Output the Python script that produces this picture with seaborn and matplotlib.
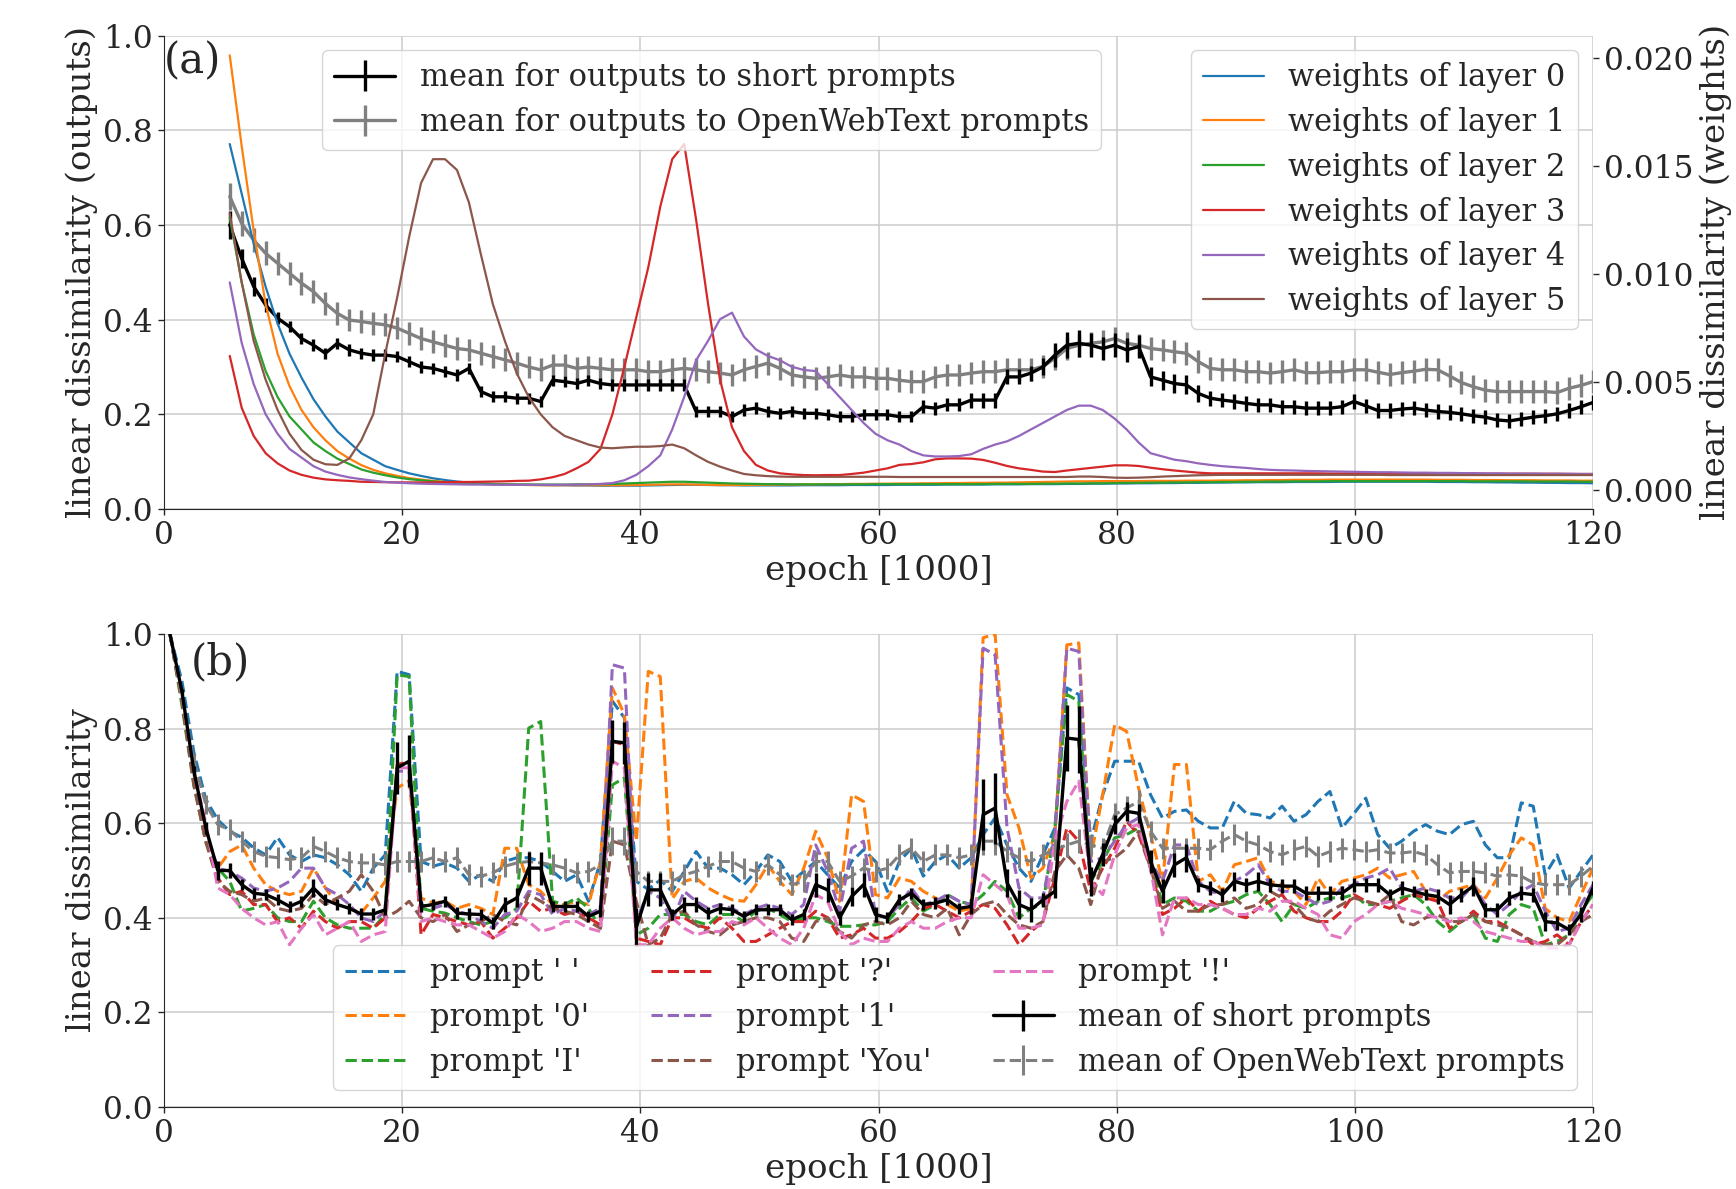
import numpy as np
import pandas as pd
import matplotlib
matplotlib.use("Agg")
import matplotlib.pyplot as plt
import seaborn as sns

# ---------------- data ----------------
# checkpoint positions (epoch [1000]) shared by both panels; panel (a) starts at the 6th checkpoint
epochs = np.linspace(0.5, 120, 120)
epochs_a = epochs[5:]

# ---- panel (a): mean output dissimilarity ----
mean_short_a = [0.60, 0.529, 0.47, 0.431, 0.403, 0.385, 0.36, 0.346, 0.329, 0.35,
                0.336, 0.329, 0.325, 0.325, 0.322, 0.311, 0.30, 0.297, 0.29, 0.283,
                0.297, 0.248, 0.237, 0.237, 0.234, 0.234, 0.227, 0.272, 0.269, 0.265,
                0.272, 0.265, 0.262, 0.262, 0.262, 0.262, 0.262, 0.262, 0.262, 0.206,
                0.206, 0.206, 0.195, 0.209, 0.213, 0.206, 0.202, 0.206, 0.202, 0.202,
                0.199, 0.195, 0.195, 0.199, 0.199, 0.199, 0.195, 0.195, 0.216, 0.213,
                0.22, 0.22, 0.23, 0.23, 0.23, 0.279, 0.279, 0.287, 0.30, 0.325,
                0.346, 0.35, 0.346, 0.339, 0.346, 0.336, 0.343, 0.279, 0.272, 0.265,
                0.262, 0.244, 0.234, 0.23, 0.227, 0.223, 0.22, 0.22, 0.216, 0.216,
                0.213, 0.213, 0.213, 0.216, 0.227, 0.218, 0.208, 0.208, 0.211, 0.213,
                0.209, 0.206, 0.204, 0.201, 0.197, 0.194, 0.188, 0.186, 0.19, 0.194,
                0.197, 0.201, 0.208, 0.216, 0.225]
mean_short_a_err = [0.03, 0.02, 0.02, 0.015, 0.013, 0.012, 0.012, 0.012, 0.012, 0.012,
                    0.012, 0.012, 0.012, 0.012, 0.012, 0.012, 0.012, 0.012, 0.012, 0.012,
                    0.012, 0.012, 0.012, 0.012, 0.012, 0.012, 0.012, 0.012, 0.012, 0.012,
                    0.012, 0.012, 0.012, 0.012, 0.012, 0.012, 0.012, 0.012, 0.012, 0.012,
                    0.012, 0.012, 0.012, 0.012, 0.012, 0.012, 0.012, 0.012, 0.012, 0.012,
                    0.012, 0.012, 0.012, 0.012, 0.012, 0.012, 0.012, 0.012, 0.014, 0.014,
                    0.014, 0.014, 0.016, 0.016, 0.016, 0.016, 0.016, 0.016, 0.018, 0.025,
                    0.028, 0.028, 0.025, 0.025, 0.025, 0.025, 0.025, 0.02, 0.02, 0.02,
                    0.02, 0.018, 0.016, 0.015, 0.015, 0.015, 0.015, 0.015, 0.015, 0.015,
                    0.015, 0.015, 0.015, 0.015, 0.015, 0.015, 0.015, 0.015, 0.015, 0.015,
                    0.015, 0.015, 0.015, 0.015, 0.015, 0.015, 0.015, 0.015, 0.015, 0.015,
                    0.015, 0.015, 0.015, 0.015, 0.015]
mean_owt_a = [0.66, 0.603, 0.568, 0.54, 0.519, 0.498, 0.477, 0.459, 0.434, 0.413,
              0.399, 0.396, 0.392, 0.389, 0.382, 0.371, 0.36, 0.353, 0.346, 0.339,
              0.336, 0.329, 0.322, 0.315, 0.308, 0.30, 0.294, 0.304, 0.304, 0.297,
              0.30, 0.297, 0.294, 0.294, 0.294, 0.29, 0.29, 0.294, 0.297, 0.294,
              0.29, 0.287, 0.283, 0.294, 0.301, 0.308, 0.297, 0.283, 0.279, 0.276,
              0.279, 0.283, 0.279, 0.279, 0.276, 0.276, 0.272, 0.269, 0.269, 0.279,
              0.283, 0.283, 0.287, 0.29, 0.29, 0.294, 0.294, 0.294, 0.301, 0.318,
              0.339, 0.346, 0.35, 0.353, 0.36, 0.35, 0.346, 0.339, 0.336, 0.332,
              0.329, 0.311, 0.297, 0.294, 0.294, 0.29, 0.29, 0.287, 0.29, 0.294,
              0.288, 0.288, 0.29, 0.29, 0.294, 0.294, 0.289, 0.284, 0.288, 0.291,
              0.295, 0.294, 0.281, 0.267, 0.258, 0.251, 0.248, 0.248, 0.248, 0.248,
              0.248, 0.246, 0.255, 0.261, 0.269]
mean_owt_a_err = [0.028, 0.026, 0.025, 0.025, 0.024, 0.024, 0.024, 0.024, 0.024, 0.024,
                  0.024, 0.024, 0.024, 0.024, 0.024, 0.024, 0.024, 0.024, 0.024, 0.024,
                  0.024, 0.024, 0.024, 0.024, 0.024, 0.024, 0.024, 0.024, 0.024, 0.024,
                  0.024, 0.024, 0.024, 0.024, 0.024, 0.024, 0.024, 0.024, 0.024, 0.024,
                  0.024, 0.024, 0.024, 0.024, 0.024, 0.024, 0.024, 0.024, 0.024, 0.024,
                  0.024, 0.024, 0.024, 0.024, 0.024, 0.024, 0.024, 0.024, 0.024, 0.024,
                  0.024, 0.024, 0.024, 0.024, 0.024, 0.024, 0.024, 0.024, 0.024, 0.024,
                  0.024, 0.024, 0.024, 0.024, 0.024, 0.024, 0.024, 0.024, 0.024, 0.024,
                  0.024, 0.024, 0.024, 0.024, 0.024, 0.024, 0.024, 0.024, 0.024, 0.024,
                  0.024, 0.024, 0.024, 0.024, 0.024, 0.024, 0.024, 0.024, 0.024, 0.024,
                  0.024, 0.024, 0.024, 0.024, 0.024, 0.024, 0.024, 0.024, 0.024, 0.024,
                  0.024, 0.024, 0.024, 0.024, 0.024]

# ---- panel (a): weight dissimilarity per layer (units of 1e-3) ----
w_layer0 = [16.0, 13.7, 11.4, 9.4, 7.7, 6.3, 5.2, 4.2, 3.4, 2.7,
            2.2, 1.7, 1.4, 1.1, 0.93, 0.77, 0.65, 0.54, 0.46, 0.39,
            0.34, 0.31, 0.28, 0.26, 0.25, 0.24, 0.23, 0.22, 0.22, 0.21,
            0.21, 0.2, 0.2, 0.2, 0.2, 0.21, 0.22, 0.23, 0.24, 0.24,
            0.23, 0.22, 0.22, 0.21, 0.21, 0.21, 0.21, 0.21, 0.22, 0.22,
            0.22, 0.22, 0.23, 0.23, 0.23, 0.23, 0.24, 0.24, 0.24, 0.24,
            0.25, 0.25, 0.25, 0.25, 0.26, 0.26, 0.26, 0.27, 0.27, 0.27,
            0.28, 0.28, 0.29, 0.29, 0.3, 0.3, 0.31, 0.31, 0.32, 0.32,
            0.33, 0.33, 0.34, 0.34, 0.35, 0.35, 0.36, 0.36, 0.36, 0.37,
            0.37, 0.37, 0.37, 0.38, 0.38, 0.38, 0.38, 0.38, 0.38, 0.38,
            0.38, 0.37, 0.37, 0.37, 0.36, 0.36, 0.35, 0.35, 0.34, 0.34,
            0.33, 0.33, 0.32, 0.32, 0.31]
w_layer1 = [20.1, 15.9, 12.0, 8.6, 6.3, 4.8, 3.7, 2.9, 2.3, 1.8,
            1.45, 1.15, 0.93, 0.77, 0.65, 0.55, 0.48, 0.42, 0.37, 0.34,
            0.31, 0.29, 0.27, 0.25, 0.24, 0.23, 0.22, 0.22, 0.22, 0.22,
            0.22, 0.22, 0.22, 0.22, 0.23, 0.24, 0.25, 0.26, 0.26, 0.25,
            0.24, 0.23, 0.23, 0.23, 0.24, 0.24, 0.25, 0.25, 0.26, 0.26,
            0.27, 0.27, 0.28, 0.28, 0.29, 0.29, 0.3, 0.3, 0.31, 0.31,
            0.32, 0.32, 0.33, 0.33, 0.34, 0.34, 0.35, 0.36, 0.37, 0.38,
            0.39, 0.4, 0.4, 0.41, 0.41, 0.41, 0.41, 0.42, 0.42, 0.42,
            0.43, 0.43, 0.43, 0.44, 0.44, 0.45, 0.45, 0.46, 0.46, 0.47,
            0.47, 0.47, 0.48, 0.48, 0.48, 0.48, 0.48, 0.48, 0.48, 0.48,
            0.48, 0.47, 0.47, 0.47, 0.46, 0.46, 0.46, 0.45, 0.45, 0.45,
            0.44, 0.44, 0.44, 0.43, 0.43]
w_layer2 = [12.6, 9.6, 7.2, 5.5, 4.3, 3.4, 2.8, 2.2, 1.8, 1.45,
            1.2, 0.95, 0.8, 0.68, 0.58, 0.5, 0.45, 0.4, 0.36, 0.33,
            0.3, 0.28, 0.27, 0.26, 0.25, 0.25, 0.25, 0.25, 0.25, 0.26,
            0.26, 0.27, 0.28, 0.3, 0.32, 0.34, 0.36, 0.38, 0.38, 0.36,
            0.34, 0.32, 0.3, 0.29, 0.28, 0.27, 0.27, 0.26, 0.26, 0.26,
            0.26, 0.26, 0.26, 0.26, 0.27, 0.27, 0.27, 0.27, 0.27, 0.27,
            0.27, 0.27, 0.27, 0.27, 0.28, 0.28, 0.28, 0.28, 0.29, 0.29,
            0.3, 0.3, 0.31, 0.31, 0.32, 0.33, 0.33, 0.34, 0.34, 0.35,
            0.35, 0.36, 0.36, 0.37, 0.37, 0.38, 0.38, 0.39, 0.39, 0.4,
            0.4, 0.4, 0.41, 0.41, 0.41, 0.41, 0.41, 0.41, 0.41, 0.41,
            0.41, 0.41, 0.41, 0.41, 0.4, 0.4, 0.4, 0.4, 0.4, 0.39,
            0.39, 0.39, 0.39, 0.38, 0.38]
w_layer3 = [6.2, 3.8, 2.5, 1.7, 1.23, 0.9, 0.7, 0.57, 0.49, 0.45,
            0.42, 0.38, 0.37, 0.36, 0.35, 0.35, 0.35, 0.35, 0.36, 0.37,
            0.37, 0.38, 0.39, 0.4, 0.42, 0.43, 0.49, 0.59, 0.74, 1.0,
            1.3, 1.9, 3.5, 5.7, 8.0, 10.3, 13.1, 15.3, 16.0, 12.5,
            8.6, 5.1, 2.9, 1.8, 1.16, 0.9, 0.77, 0.72, 0.69, 0.68,
            0.69, 0.69, 0.74, 0.8, 0.9, 1.0, 1.16, 1.2, 1.28, 1.42,
            1.46, 1.46, 1.45, 1.39, 1.26, 1.11, 1.0, 0.93, 0.85, 0.83,
            0.9, 0.96, 1.02, 1.08, 1.14, 1.14, 1.11, 1.03, 0.96, 0.9,
            0.85, 0.8, 0.77, 0.77, 0.77, 0.77, 0.77, 0.77, 0.77, 0.77,
            0.77, 0.77, 0.76, 0.76, 0.76, 0.76, 0.76, 0.76, 0.76, 0.76,
            0.76, 0.76, 0.75, 0.75, 0.75, 0.75, 0.75, 0.75, 0.75, 0.75,
            0.75, 0.75, 0.74, 0.74, 0.74]
w_layer4 = [9.6, 6.8, 4.9, 3.5, 2.6, 1.9, 1.5, 1.1, 0.85, 0.7,
            0.58, 0.5, 0.43, 0.37, 0.34, 0.31, 0.29, 0.28, 0.27, 0.26,
            0.25, 0.25, 0.24, 0.24, 0.24, 0.24, 0.24, 0.24, 0.24, 0.25,
            0.26, 0.28, 0.32, 0.45, 0.7, 1.1, 1.6, 2.8, 4.3, 6.0,
            6.9, 7.9, 8.2, 7.1, 6.5, 6.2, 6.0, 5.7, 5.55, 5.5,
            4.9, 4.3, 3.7, 3.1, 2.6, 2.3, 2.1, 1.8, 1.6, 1.55,
            1.55, 1.57, 1.65, 1.9, 2.1, 2.25, 2.5, 2.8, 3.1, 3.4,
            3.7, 3.9, 3.9, 3.7, 3.3, 2.8, 2.2, 1.7, 1.55, 1.4,
            1.33, 1.23, 1.16, 1.1, 1.06, 1.02, 0.97, 0.93, 0.91, 0.9,
            0.88, 0.87, 0.86, 0.85, 0.84, 0.83, 0.82, 0.82, 0.81, 0.8,
            0.8, 0.79, 0.79, 0.78, 0.78, 0.77, 0.77, 0.76, 0.76, 0.76,
            0.75, 0.75, 0.75, 0.74, 0.74]
w_layer5 = [12.8, 9.6, 6.9, 5.1, 3.7, 2.6, 1.85, 1.4, 1.19, 1.16,
            1.46, 2.3, 3.5, 6.3, 8.9, 11.7, 14.2, 15.3, 15.3, 14.8,
            13.3, 10.9, 8.6, 6.9, 5.4, 4.3, 3.5, 2.9, 2.5, 2.3,
            2.1, 1.96, 1.93, 1.97, 2.0, 2.0, 2.03, 2.1, 1.93, 1.6,
            1.3, 1.08, 0.9, 0.74, 0.68, 0.64, 0.62, 0.61, 0.61, 0.61,
            0.61, 0.61, 0.61, 0.61, 0.61, 0.61, 0.6, 0.6, 0.6, 0.6,
            0.6, 0.6, 0.6, 0.6, 0.6, 0.6, 0.6, 0.6, 0.6, 0.6,
            0.6, 0.62, 0.62, 0.6, 0.57, 0.56, 0.57, 0.59, 0.62, 0.64,
            0.66, 0.68, 0.69, 0.7, 0.7, 0.7, 0.7, 0.7, 0.7, 0.7,
            0.7, 0.7, 0.7, 0.7, 0.7, 0.7, 0.7, 0.69, 0.69, 0.69,
            0.69, 0.69, 0.69, 0.69, 0.69, 0.69, 0.69, 0.69, 0.69, 0.69,
            0.69, 0.69, 0.69, 0.69, 0.69]
weight_layers = [w_layer0, w_layer1, w_layer2, w_layer3, w_layer4, w_layer5]
weight_labels = ["weights of layer 0", "weights of layer 1", "weights of layer 2",
                 "weights of layer 3", "weights of layer 4", "weights of layer 5"]

# ---- panel (b): dissimilarity per short prompt ----
prompt_space = [1.0, 0.90, 0.75, 0.65, 0.607, 0.583, 0.57, 0.548, 0.533, 0.57,
                0.533, 0.519, 0.533, 0.527, 0.512, 0.491, 0.456, 0.505, 0.533, 0.921,
                0.914, 0.519, 0.509, 0.516, 0.505, 0.477, 0.491, 0.477, 0.519, 0.527,
                0.527, 0.519, 0.498, 0.477, 0.491, 0.435, 0.519, 0.858, 0.823, 0.477,
                0.46, 0.48, 0.456, 0.498, 0.54, 0.505, 0.505, 0.491, 0.47, 0.498,
                0.533, 0.519, 0.477, 0.498, 0.519, 0.491, 0.463, 0.519, 0.544, 0.519,
                0.456, 0.519, 0.547, 0.488, 0.519, 0.533, 0.505, 0.527, 0.576, 0.611,
                0.554, 0.505, 0.477, 0.533, 0.59, 0.886, 0.872, 0.562, 0.66, 0.731,
                0.731, 0.731, 0.66, 0.611, 0.625, 0.628, 0.604, 0.59, 0.59, 0.646,
                0.621, 0.618, 0.611, 0.636, 0.604, 0.618, 0.646, 0.667, 0.59, 0.62,
                0.653, 0.576, 0.547, 0.562, 0.583, 0.597, 0.583, 0.576, 0.597, 0.604,
                0.554, 0.527, 0.527, 0.643, 0.636, 0.491, 0.533, 0.463, 0.498, 0.533]
prompt_0 = [1.0, 0.86, 0.70, 0.57, 0.505, 0.54, 0.554, 0.505, 0.47, 0.456,
            0.449, 0.456, 0.505, 0.463, 0.428, 0.42, 0.41, 0.442, 0.477, 0.674,
            0.69, 0.442, 0.431, 0.435, 0.42, 0.428, 0.42, 0.407, 0.547, 0.547,
            0.47, 0.456, 0.428, 0.428, 0.435, 0.428, 0.519, 0.886, 0.83, 0.562,
            0.921, 0.91, 0.44, 0.477, 0.484, 0.463, 0.449, 0.438, 0.435, 0.47,
            0.512, 0.477, 0.449, 0.505, 0.583, 0.527, 0.435, 0.66, 0.646, 0.449,
            0.442, 0.484, 0.477, 0.456, 0.442, 0.428, 0.414, 0.42, 0.992, 1.0,
            0.66, 0.59, 0.484, 0.505, 0.576, 0.977, 0.981, 0.527, 0.66, 0.808,
            0.794, 0.674, 0.576, 0.477, 0.724, 0.724, 0.477, 0.491, 0.456, 0.512,
            0.519, 0.527, 0.477, 0.47, 0.456, 0.428, 0.484, 0.449, 0.477, 0.484,
            0.491, 0.505, 0.484, 0.491, 0.498, 0.456, 0.435, 0.456, 0.463, 0.47,
            0.442, 0.484, 0.533, 0.569, 0.554, 0.42, 0.40, 0.392, 0.449, 0.505]
prompt_I = [1.0, 0.85, 0.68, 0.56, 0.505, 0.477, 0.414, 0.42, 0.428, 0.40,
            0.392, 0.392, 0.435, 0.40, 0.385, 0.378, 0.378, 0.378, 0.407, 0.914,
            0.91, 0.42, 0.414, 0.41, 0.40, 0.392, 0.385, 0.392, 0.40, 0.42,
            0.801, 0.815, 0.435, 0.428, 0.442, 0.42, 0.378, 0.681, 0.696, 0.364,
            0.378, 0.407, 0.407, 0.407, 0.392, 0.385, 0.407, 0.407, 0.392, 0.414,
            0.42, 0.407, 0.392, 0.40, 0.40, 0.392, 0.382, 0.382, 0.385, 0.385,
            0.392, 0.42, 0.442, 0.414, 0.428, 0.449, 0.435, 0.428, 0.449, 0.477,
            0.456, 0.40, 0.42, 0.428, 0.59, 0.872, 0.858, 0.477, 0.519, 0.569,
            0.576, 0.59, 0.519, 0.428, 0.442, 0.435, 0.414, 0.414, 0.428, 0.435,
            0.449, 0.456, 0.428, 0.392, 0.428, 0.42, 0.435, 0.442, 0.442, 0.449,
            0.428, 0.428, 0.435, 0.442, 0.449, 0.428, 0.392, 0.371, 0.392, 0.407,
            0.357, 0.35, 0.407, 0.428, 0.42, 0.343, 0.35, 0.364, 0.414, 0.449]
prompt_q = [1.0, 0.86, 0.69, 0.57, 0.484, 0.449, 0.456, 0.428, 0.428, 0.392,
            0.40, 0.378, 0.414, 0.392, 0.378, 0.392, 0.392, 0.378, 0.40, 0.724,
            0.73, 0.364, 0.407, 0.40, 0.392, 0.385, 0.392, 0.357, 0.378, 0.40,
            0.435, 0.414, 0.42, 0.407, 0.414, 0.40, 0.385, 0.773, 0.766, 0.357,
            0.35, 0.343, 0.40, 0.40, 0.385, 0.378, 0.40, 0.378, 0.35, 0.35,
            0.364, 0.378, 0.392, 0.392, 0.414, 0.40, 0.357, 0.364, 0.378, 0.357,
            0.357, 0.371, 0.392, 0.42, 0.428, 0.414, 0.40, 0.414, 0.428, 0.42,
            0.385, 0.343, 0.371, 0.392, 0.484, 0.59, 0.562, 0.456, 0.505, 0.547,
            0.604, 0.576, 0.505, 0.407, 0.42, 0.442, 0.414, 0.435, 0.42, 0.407,
            0.40, 0.42, 0.435, 0.449, 0.414, 0.40, 0.392, 0.392, 0.414, 0.449,
            0.435, 0.428, 0.42, 0.435, 0.449, 0.442, 0.435, 0.378, 0.392, 0.414,
            0.392, 0.392, 0.378, 0.364, 0.343, 0.35, 0.364, 0.343, 0.392, 0.428]
prompt_1 = [1.0, 0.87, 0.70, 0.58, 0.505, 0.498, 0.484, 0.463, 0.456, 0.463,
            0.477, 0.505, 0.505, 0.463, 0.449, 0.428, 0.40, 0.392, 0.414, 0.71,
            0.71, 0.428, 0.42, 0.428, 0.414, 0.407, 0.392, 0.378, 0.407, 0.414,
            0.456, 0.449, 0.407, 0.42, 0.414, 0.407, 0.42, 0.935, 0.928, 0.392,
            0.456, 0.442, 0.392, 0.456, 0.435, 0.42, 0.428, 0.42, 0.407, 0.42,
            0.428, 0.42, 0.407, 0.428, 0.554, 0.498, 0.414, 0.547, 0.562, 0.407,
            0.40, 0.428, 0.463, 0.428, 0.435, 0.449, 0.435, 0.428, 0.97, 0.956,
            0.59, 0.463, 0.442, 0.442, 0.576, 0.97, 0.963, 0.519, 0.527, 0.562,
            0.597, 0.611, 0.519, 0.477, 0.554, 0.554, 0.477, 0.456, 0.449, 0.477,
            0.491, 0.512, 0.47, 0.456, 0.456, 0.442, 0.428, 0.435, 0.463, 0.47,
            0.484, 0.491, 0.505, 0.463, 0.456, 0.463, 0.456, 0.442, 0.442, 0.47,
            0.428, 0.407, 0.428, 0.456, 0.47, 0.414, 0.371, 0.378, 0.428, 0.47]
prompt_You = [1.0, 0.86, 0.68, 0.56, 0.477, 0.456, 0.449, 0.435, 0.442, 0.42,
              0.414, 0.42, 0.449, 0.428, 0.442, 0.456, 0.491, 0.456, 0.40, 0.414,
              0.435, 0.40, 0.392, 0.407, 0.371, 0.385, 0.392, 0.407, 0.392, 0.385,
              0.449, 0.435, 0.42, 0.414, 0.407, 0.392, 0.378, 0.562, 0.554, 0.435,
              0.343, 0.357, 0.407, 0.414, 0.385, 0.371, 0.364, 0.385, 0.392, 0.40,
              0.40, 0.392, 0.357, 0.35, 0.392, 0.40, 0.371, 0.357, 0.385, 0.392,
              0.385, 0.40, 0.435, 0.407, 0.40, 0.42, 0.364, 0.407, 0.428, 0.435,
              0.407, 0.385, 0.378, 0.392, 0.498, 0.533, 0.505, 0.428, 0.519, 0.527,
              0.547, 0.583, 0.505, 0.42, 0.435, 0.414, 0.414, 0.428, 0.428, 0.442,
              0.42, 0.428, 0.456, 0.442, 0.428, 0.40, 0.392, 0.414, 0.428, 0.442,
              0.435, 0.428, 0.449, 0.392, 0.385, 0.40, 0.407, 0.392, 0.392, 0.407,
              0.392, 0.385, 0.378, 0.364, 0.35, 0.343, 0.343, 0.364, 0.392, 0.407]
prompt_excl = [1.0, 0.87, 0.71, 0.60, 0.463, 0.449, 0.42, 0.40, 0.385, 0.392,
               0.343, 0.378, 0.407, 0.364, 0.378, 0.392, 0.35, 0.364, 0.371, 0.717,
               0.717, 0.392, 0.40, 0.392, 0.385, 0.385, 0.371, 0.357, 0.371, 0.407,
               0.392, 0.371, 0.378, 0.392, 0.392, 0.378, 0.371, 0.731, 0.717, 0.343,
               0.343, 0.378, 0.40, 0.378, 0.364, 0.371, 0.371, 0.392, 0.385, 0.40,
               0.378, 0.357, 0.343, 0.378, 0.449, 0.435, 0.371, 0.343, 0.357, 0.35,
               0.35, 0.378, 0.392, 0.378, 0.378, 0.392, 0.40, 0.40, 0.491, 0.47,
               0.449, 0.378, 0.378, 0.385, 0.562, 0.646, 0.689, 0.477, 0.449, 0.533,
               0.59, 0.597, 0.505, 0.364, 0.442, 0.442, 0.428, 0.428, 0.42, 0.407,
               0.407, 0.42, 0.414, 0.435, 0.435, 0.42, 0.407, 0.364, 0.357, 0.392,
               0.407, 0.428, 0.435, 0.42, 0.414, 0.407, 0.40, 0.392, 0.40, 0.392,
               0.371, 0.364, 0.357, 0.35, 0.35, 0.336, 0.336, 0.343, 0.392, 0.428]
prompt_series = [prompt_space, prompt_0, prompt_I, prompt_q, prompt_1, prompt_You, prompt_excl]
prompt_labels = ["prompt ' '", "prompt '0'", "prompt 'I'", "prompt '?'",
                 "prompt '1'", "prompt 'You'", "prompt '!'"]

mean_short_b = [1.0, 0.879, 0.71, 0.59, 0.50, 0.50, 0.47, 0.452, 0.449, 0.438,
                0.424, 0.435, 0.463, 0.438, 0.428, 0.42, 0.408, 0.408, 0.417, 0.717,
                0.731, 0.424, 0.428, 0.435, 0.41, 0.408, 0.407, 0.389, 0.428, 0.442,
                0.505, 0.505, 0.424, 0.424, 0.424, 0.403, 0.414, 0.773, 0.77, 0.38,
                0.459, 0.459, 0.407, 0.428, 0.428, 0.41, 0.42, 0.417, 0.403, 0.417,
                0.417, 0.417, 0.396, 0.407, 0.47, 0.459, 0.40, 0.445, 0.47, 0.407,
                0.40, 0.438, 0.452, 0.428, 0.431, 0.438, 0.42, 0.424, 0.618, 0.632,
                0.474, 0.428, 0.417, 0.438, 0.456, 0.78, 0.777, 0.477, 0.534, 0.597,
                0.625, 0.621, 0.519, 0.456, 0.512, 0.527, 0.47, 0.463, 0.449, 0.477,
                0.47, 0.477, 0.47, 0.467, 0.467, 0.452, 0.452, 0.452, 0.452, 0.47,
                0.47, 0.47, 0.449, 0.463, 0.456, 0.449, 0.445, 0.428, 0.449, 0.467,
                0.417, 0.417, 0.442, 0.452, 0.449, 0.392, 0.389, 0.375, 0.407, 0.463]
mean_short_b_err = [0.0, 0.005, 0.01, 0.012, 0.02, 0.015, 0.012, 0.012, 0.012, 0.012,
                    0.012, 0.012, 0.018, 0.012, 0.012, 0.012, 0.012, 0.012, 0.012, 0.055,
                    0.055, 0.012, 0.012, 0.012, 0.012, 0.012, 0.012, 0.012, 0.015, 0.02,
                    0.035, 0.035, 0.012, 0.012, 0.012, 0.012, 0.012, 0.045, 0.045, 0.04,
                    0.035, 0.035, 0.012, 0.015, 0.015, 0.012, 0.012, 0.012, 0.012, 0.012,
                    0.012, 0.012, 0.012, 0.012, 0.025, 0.025, 0.015, 0.02, 0.025, 0.015,
                    0.012, 0.012, 0.012, 0.012, 0.012, 0.012, 0.012, 0.015, 0.075, 0.075,
                    0.03, 0.03, 0.025, 0.015, 0.015, 0.07, 0.07, 0.03, 0.025, 0.02,
                    0.02, 0.02, 0.025, 0.025, 0.025, 0.03, 0.015, 0.015, 0.015, 0.02,
                    0.015, 0.02, 0.015, 0.015, 0.015, 0.015, 0.015, 0.015, 0.015, 0.015,
                    0.015, 0.015, 0.012, 0.015, 0.012, 0.012, 0.015, 0.02, 0.015, 0.02,
                    0.015, 0.015, 0.015, 0.015, 0.015, 0.02, 0.015, 0.012, 0.015, 0.015]
mean_owt_b = [1.0, 0.87, 0.731, 0.64, 0.597, 0.586, 0.562, 0.54, 0.53, 0.527,
              0.523, 0.527, 0.551, 0.54, 0.527, 0.519, 0.516, 0.516, 0.512, 0.519,
              0.519, 0.519, 0.527, 0.519, 0.527, 0.491, 0.488, 0.495, 0.509, 0.516,
              0.519, 0.516, 0.512, 0.505, 0.495, 0.498, 0.512, 0.562, 0.562, 0.498,
              0.477, 0.477, 0.477, 0.491, 0.498, 0.509, 0.519, 0.519, 0.505, 0.498,
              0.512, 0.491, 0.47, 0.477, 0.519, 0.519, 0.477, 0.488, 0.505, 0.498,
              0.505, 0.533, 0.547, 0.519, 0.533, 0.533, 0.527, 0.533, 0.562, 0.562,
              0.54, 0.527, 0.519, 0.533, 0.544, 0.554, 0.562, 0.554, 0.547, 0.618,
              0.632, 0.646, 0.583, 0.547, 0.547, 0.547, 0.547, 0.544, 0.562, 0.576,
              0.562, 0.554, 0.54, 0.533, 0.544, 0.551, 0.53, 0.54, 0.547, 0.544,
              0.54, 0.544, 0.537, 0.537, 0.54, 0.533, 0.512, 0.495, 0.498, 0.498,
              0.495, 0.488, 0.491, 0.488, 0.474, 0.47, 0.47, 0.47, 0.488, 0.509]
mean_owt_b_err = [0.0, 0.01, 0.015, 0.02, 0.022, 0.022, 0.022, 0.022, 0.022, 0.022,
                  0.022, 0.022, 0.022, 0.022, 0.022, 0.022, 0.022, 0.022, 0.022, 0.022,
                  0.022, 0.022, 0.022, 0.022, 0.022, 0.022, 0.022, 0.022, 0.022, 0.022,
                  0.022, 0.022, 0.022, 0.022, 0.022, 0.022, 0.022, 0.03, 0.03, 0.022,
                  0.022, 0.022, 0.022, 0.022, 0.022, 0.022, 0.022, 0.022, 0.022, 0.022,
                  0.022, 0.022, 0.022, 0.022, 0.022, 0.022, 0.022, 0.022, 0.022, 0.022,
                  0.022, 0.022, 0.022, 0.022, 0.022, 0.022, 0.022, 0.022, 0.03, 0.03,
                  0.022, 0.022, 0.022, 0.022, 0.022, 0.025, 0.025, 0.022, 0.022, 0.025,
                  0.025, 0.025, 0.022, 0.022, 0.022, 0.022, 0.022, 0.022, 0.022, 0.022,
                  0.022, 0.022, 0.022, 0.022, 0.022, 0.022, 0.022, 0.022, 0.022, 0.022,
                  0.022, 0.022, 0.022, 0.022, 0.022, 0.022, 0.022, 0.022, 0.022, 0.022,
                  0.022, 0.022, 0.022, 0.022, 0.022, 0.022, 0.022, 0.022, 0.022, 0.022]

# ---------------- style ----------------
sns.set_style("ticks")
plt.rcParams["font.family"] = ["DejaVu Serif"]
plt.rcParams["text.color"] = "#262626"
plt.rcParams["axes.labelcolor"] = "#262626"
plt.rcParams["xtick.color"] = "#262626"
plt.rcParams["ytick.color"] = "#262626"

TICK_FS = 22.5
LABEL_FS = 24.5
LEG_FS = 22.0
LEG_SP = 0.45
PANEL_FS = 30
palette = sns.color_palette("tab10")

fig = plt.figure(figsize=(17.36, 11.89), dpi=100)
ax_a = fig.add_axes([0.09447, 0.57191, 0.82316, 0.39823])
ax_b = fig.add_axes([0.09447, 0.06897, 0.82316, 0.39781])
ax_w = ax_a.twinx()

# ---------- panel (a) ----------
df_w = pd.DataFrame({"epoch": np.tile(epochs_a, len(weight_layers)),
                     "value": np.concatenate([np.array(w) * 1e-3 for w in weight_layers]),
                     "layer": np.repeat(weight_labels, len(epochs_a))})
for i, lab in enumerate(weight_labels):
    sub = df_w[df_w["layer"] == lab]
    sns.lineplot(data=sub, x="epoch", y="value", ax=ax_w, color=palette[i],
                 lw=1.6, label=lab, legend=False)

eb_short_a = ax_a.errorbar(epochs_a, mean_short_a, yerr=mean_short_a_err, color="black",
                           lw=2.4, elinewidth=2.4, capsize=0, zorder=4)
eb_owt_a = ax_a.errorbar(epochs_a, mean_owt_a, yerr=mean_owt_a_err, color="gray",
                         lw=2.4, elinewidth=2.4, capsize=0, zorder=3)

ax_a.set_xlim(0, 120)
ax_a.set_ylim(0, 1.0)
ax_w.set_ylim(-0.00088, 0.02102)
ax_a.set_xticks([0, 20, 40, 60, 80, 100, 120])
ax_a.set_yticks([0.0, 0.2, 0.4, 0.6, 0.8, 1.0])
ax_a.set_yticklabels(["0.0", "0.2", "0.4", "0.6", "0.8", "1.0"])
ax_w.set_yticks([0.0, 0.005, 0.010, 0.015, 0.020])
ax_w.set_yticklabels(["0.000", "0.005", "0.010", "0.015", "0.020"])
ax_a.grid(True, color="#cccccc", lw=1.1)
ax_w.grid(False)
for s in ["top", "right"]:
    ax_a.spines[s].set_visible(False)
for s in ax_w.spines.values():
    s.set_visible(False)
ax_a.set_xlabel("epoch [1000]", fontsize=LABEL_FS, labelpad=3)
ax_a.set_ylabel("linear dissimilarity (outputs)", fontsize=LABEL_FS)
ax_w.set_ylabel("linear dissimilarity (weights)", fontsize=LABEL_FS)
for ax in (ax_a, ax_w):
    ax.tick_params(labelsize=TICK_FS, length=4.5, width=1.0)
ax_a.text(0.0, 0.99, "(a)", transform=ax_a.transAxes, fontsize=PANEL_FS, va="top", ha="left")

leg1 = ax_w.legend([eb_short_a, eb_owt_a],
                   ["mean for outputs to short prompts", "mean for outputs to OpenWebText prompts"],
                   loc="upper left", bbox_to_anchor=(0.1106, 0.969), borderaxespad=0,
                   fontsize=LEG_FS, labelspacing=LEG_SP)
ax_w.add_artist(leg1)
h_w, l_w = ax_w.get_legend_handles_labels()
h_w = [h for h in h_w if h.get_label() in weight_labels]
ax_w.legend(h_w, weight_labels, loc="upper right", bbox_to_anchor=(0.9895, 0.969),
            borderaxespad=0, fontsize=LEG_FS, labelspacing=LEG_SP)

# ---------- panel (b) ----------
df_p = pd.DataFrame({"epoch": np.tile(epochs, len(prompt_series)),
                     "value": np.concatenate([np.array(p) for p in prompt_series]),
                     "prompt": np.repeat(prompt_labels, len(epochs))})
for i, lab in enumerate(prompt_labels):
    sub = df_p[df_p["prompt"] == lab]
    sns.lineplot(data=sub, x="epoch", y="value", ax=ax_b, color=palette[i],
                 lw=2.2, linestyle="--", label=lab, legend=False)

eb_owt_b = ax_b.errorbar(epochs, mean_owt_b, yerr=mean_owt_b_err, color="gray", fmt="--",
                         lw=2.2, elinewidth=2.2, capsize=0, zorder=4)
eb_short_b = ax_b.errorbar(epochs, mean_short_b, yerr=mean_short_b_err, color="black",
                           lw=2.4, elinewidth=2.4, capsize=0, zorder=5)

ax_b.set_xlim(0, 120)
ax_b.set_ylim(0, 1.0)
ax_b.set_xticks([0, 20, 40, 60, 80, 100, 120])
ax_b.set_yticks([0.0, 0.2, 0.4, 0.6, 0.8, 1.0])
ax_b.set_yticklabels(["0.0", "0.2", "0.4", "0.6", "0.8", "1.0"])
ax_b.grid(True, color="#cccccc", lw=1.1)
for s in ["top", "right"]:
    ax_b.spines[s].set_visible(False)
ax_b.set_xlabel("epoch [1000]", fontsize=LABEL_FS, labelpad=3)
ax_b.set_ylabel("linear dissimilarity", fontsize=LABEL_FS)
ax_b.tick_params(labelsize=TICK_FS, length=4.5, width=1.0)
ax_b.text(0.019, 0.985, "(b)", transform=ax_b.transAxes, fontsize=PANEL_FS, va="top", ha="left")

h_p, l_p = ax_b.get_legend_handles_labels()
h_p = [h for h in h_p if h.get_label() in prompt_labels]
ax_b.legend(h_p + [eb_short_b, eb_owt_b],
            prompt_labels + ["mean of short prompts", "mean of OpenWebText prompts"],
            ncol=3, loc="lower right", bbox_to_anchor=(0.989, 0.036), borderaxespad=0,
            fontsize=LEG_FS, labelspacing=LEG_SP)

fig.savefig("out.png", dpi=100)
